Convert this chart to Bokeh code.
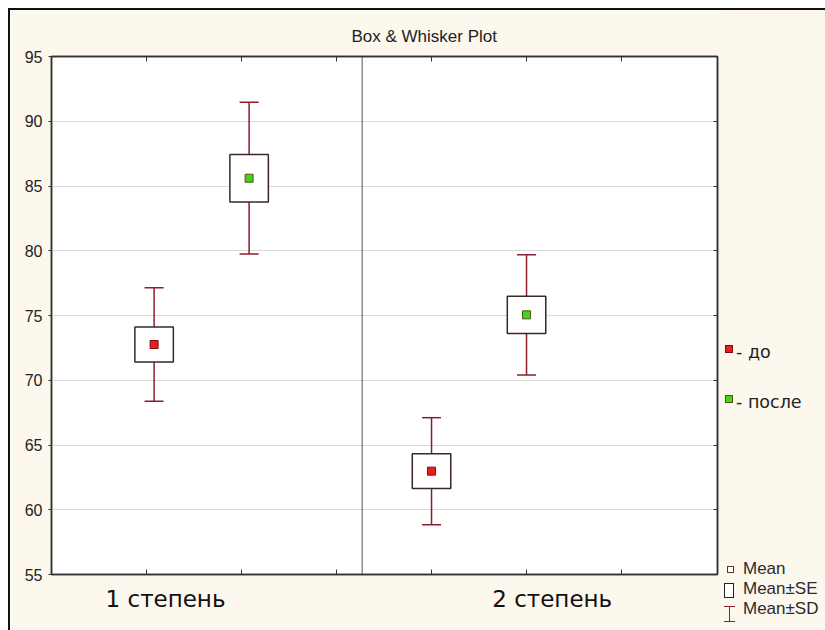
from bokeh.plotting import figure
from bokeh.layouts import row
from bokeh.models import Range1d, LinearAxis, FixedTicker, Span, Div
from bokeh.embed import file_html
from bokeh.resources import INLINE

# ---------------- data ----------------
groups = ["1 степень", "2 степень"]
group_label_x = [1.2, 5.27]
x_ticks = [1, 2, 3, 4, 5, 6]
y_ticks = [55, 60, 65, 70, 75, 80, 85, 90, 95]
divider_x = 3.27

x_pos = [1.08, 2.08, 4.0, 5.0]
cond = ["до", "после", "до", "после"]
means = [72.76, 85.60, 62.98, 75.05]
se = [1.35, 1.84, 1.34, 1.44]
sd = [4.38, 5.86, 4.13, 4.65]

legend_labels = ["- до", "- после"]
key_labels = ["Mean", "Mean±SE", "Mean±SD"]

# ---------------- style ----------------
CREAM = "#fcf8ee"
AXIS = "#333333"
WHISK = "#8b1e2a"
BOXC = "#3a2828"
RED = "#e8201c"
RED_EDGE = "#7a1010"
GREEN = "#48d01e"
GREEN_EDGE = "#4a5a10"
H = 620

p = figure(width=711, height=H, output_backend="svg", toolbar_location=None,
           x_range=Range1d(0, 7.01), y_range=Range1d(55, 95),
           min_border_left=41, min_border_top=46, min_border_right=4, min_border_bottom=56,
           background_fill_color="white", border_fill_color=CREAM,
           outline_line_color=AXIS, outline_line_width=1.5)

# title
p.title.text = "Box & Whisker Plot"
p.title.align = "left"
p.title.offset = 300
p.title.text_font = "Liberation Sans"
p.title.text_font_size = "17px"
p.title.text_font_style = "normal"
p.title.text_color = "#222222"
p.title.standoff = 21

# grid
p.xgrid.visible = False
p.ygrid.ticker = FixedTicker(ticks=y_ticks)
p.ygrid.grid_line_color = "#d9d9d9"
p.ygrid.grid_line_width = 1.2

# left axis
ya = p.yaxis[0]
ya.ticker = FixedTicker(ticks=y_ticks)
ya.major_tick_out = 3
ya.major_tick_in = 0
ya.minor_tick_out = 0
ya.minor_tick_in = 0
ya.axis_line_color = AXIS
ya.axis_line_width = 1.5
ya.major_tick_line_color = AXIS
ya.major_label_standoff = 6
ya.major_label_text_font = "Liberation Sans"
ya.major_label_text_font_size = "16px"
ya.major_label_text_color = "#222222"

# bottom axis: category labels + inward minor ticks
xa = p.xaxis[0]
xa.ticker = FixedTicker(ticks=group_label_x, minor_ticks=x_ticks)
xa.major_label_overrides = {group_label_x[i]: groups[i] for i in range(len(groups))}
xa.major_tick_in = 0
xa.major_tick_out = 0
xa.minor_tick_in = 5
xa.minor_tick_out = 0
xa.minor_tick_line_color = AXIS
xa.axis_line_color = AXIS
xa.axis_line_width = 1.5
xa.major_label_standoff = 11
xa.major_label_text_font = "DejaVu Sans"
xa.major_label_text_font_size = "23px"
xa.major_label_text_color = "#111111"

# top axis (inward ticks only)
ta = LinearAxis(ticker=FixedTicker(ticks=[], minor_ticks=x_ticks), major_tick_in=0, major_tick_out=0,
                minor_tick_in=5, minor_tick_out=0, major_label_standoff=0,
                axis_line_color=AXIS, axis_line_width=1.5, minor_tick_line_color=AXIS)
p.add_layout(ta, "above")

# right axis (inward ticks only)
ra = LinearAxis(ticker=FixedTicker(ticks=[], minor_ticks=y_ticks), major_tick_in=0, major_tick_out=0,
                minor_tick_in=4, minor_tick_out=0, major_label_standoff=0,
                axis_line_color=AXIS, axis_line_width=1.5, minor_tick_line_color=AXIS)
p.add_layout(ra, "right")

# divider
p.add_layout(Span(location=divider_x, dimension="height", line_color="#555555", line_width=1))

# whiskers (mean ± SD)
lo = [m - s for m, s in zip(means, sd)]
hi = [m + s for m, s in zip(means, sd)]
p.segment(x0=x_pos, y0=lo, x1=x_pos, y1=hi, line_color=WHISK, line_width=1.5)
p.scatter(x=x_pos, y=lo, marker="dash", size=19, line_color=WHISK, line_width=1.5)
p.scatter(x=x_pos, y=hi, marker="dash", size=19, line_color=WHISK, line_width=1.5)

# SE boxes
p.vbar(x=x_pos, width=0.405,
       top=[m + s for m, s in zip(means, se)],
       bottom=[m - s for m, s in zip(means, se)],
       fill_color="white", line_color=BOXC, line_width=1.5)

# means
def pick(arr, c):
    return [a for a, k in zip(arr, cond) if k == c]

p.scatter(x=pick(x_pos, "до"), y=pick(means, "до"), marker="square", size=8,
          fill_color=RED, line_color=RED_EDGE, line_width=1)
p.scatter(x=pick(x_pos, "после"), y=pick(means, "после"), marker="square", size=8,
          fill_color=GREEN, line_color=GREEN_EDGE, line_width=1)

# ---------------- legend panel (HTML) ----------------
def box(left, top, w, h, extra):
    return (f'<div style="position:absolute;left:{left}px;top:{top}px;width:{w}px;height:{h}px;'
            f'box-sizing:border-box;{extra}"></div>')

def txt(left, top, s, font, size, color):
    return (f'<div style="position:absolute;left:{left}px;top:{top}px;height:20px;line-height:20px;'
            f'white-space:nowrap;font-family:\'{font}\';font-size:{size}px;color:{color}">{s}</div>')

html = ['<div style="position:relative;width:104px;height:620px;background:%s">' % CREAM]
html.append(box(4, 335, 8, 8, f"background:{RED};border:1px solid {RED_EDGE}"))
html.append(txt(15, 332, legend_labels[0], "DejaVu Sans", 17.5, "#222222"))
html.append(box(4, 385, 8, 8, f"background:{GREEN};border:1px solid {GREEN_EDGE}"))
html.append(txt(15, 382, legend_labels[1], "DejaVu Sans", 17.5, "#222222"))
# Mean
html.append(box(6, 556, 7, 7, "background:white;border:1.2px solid #6b2a2a"))
html.append(txt(22, 549, key_labels[0], "Liberation Sans", 17, "#2a2a2a"))
# Mean±SE
html.append(box(3, 573, 10, 15, "background:white;border:1.3px solid #222222"))
html.append(txt(22, 569, key_labels[1], "Liberation Sans", 17, "#2a2a2a"))
# Mean±SD
html.append(box(3, 596, 11, 16, f"border-top:1.4px solid {WHISK};border-bottom:1.4px solid {WHISK}"))
html.append(box(8, 596, 1.4, 16, f"background:{WHISK}"))
html.append(txt(22, 589, key_labels[2], "Liberation Sans", 17, "#2a2a2a"))
html.append('</div>')

legend_div = Div(text="".join(html), width=104, height=H,
                 styles={"background-color": CREAM, "margin": "0", "padding": "0"})

layout = row(p, legend_div, spacing=0)
layout.styles = {"margin-left": "8px", "margin-top": "8px",
                 "border-top": "2px solid #111", "border-left": "2px solid #111"}

open("out.html", "w").write(file_html(layout, INLINE))
